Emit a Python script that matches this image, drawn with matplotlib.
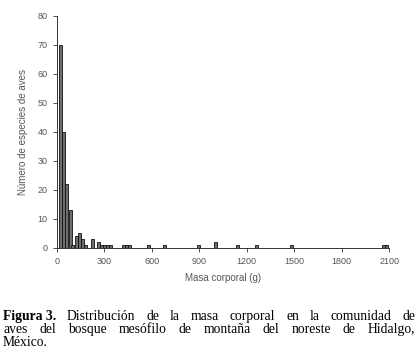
import matplotlib
matplotlib.use("Agg")
import matplotlib.pyplot as plt

# masa corporal (g) - centro de cada barra, y numero de especies
masa = [20, 42, 63, 84, 102, 124, 143, 163, 184, 223, 263, 283, 300, 318, 336,
        420, 440, 458, 582, 681, 898, 1000, 1140, 1262, 1482, 2062, 2082]
especies = [70, 40, 22, 13, 1, 4, 5, 3, 1, 3, 2, 1, 1, 1, 1,
            1, 1, 1, 1, 1, 1, 2, 1, 1, 1, 1, 1]

xticks = [0, 300, 600, 900, 1200, 1500, 1800, 2100]
yticks = [0, 10, 20, 30, 40, 50, 60, 70, 80]

caption = [
    [("Figura 3.", "bold"), ("Distribución", "normal"), ("de", "normal"), ("la", "normal"),
     ("masa", "normal"), ("corporal", "normal"), ("en", "normal"), ("la", "normal"),
     ("comunidad", "normal"), ("de", "normal")],
    [(w, "normal") for w in "aves del bosque mesófilo de montaña del noreste de Hidalgo,".split()],
    [("México.", "normal")],
]

grey = "#555555"
plt.rcParams['font.family'] = ['Liberation Sans', 'DejaVu Sans']
serif = ['Liberation Serif', 'DejaVu Serif']

fig = plt.figure(figsize=(4.18, 3.63), dpi=100)
ax = fig.add_axes([0.136, 0.317, 0.795, 0.639])

ax.bar(masa, especies, width=19, color="#6e6e6e", edgecolor="#111111", linewidth=0.6)

ax.set_xlim(0, 2100)
ax.set_ylim(0, 80)
ax.set_xticks(xticks)
ax.set_yticks(yticks)
ax.tick_params(labelsize=6.5, colors="#333333", labelcolor=grey, length=3, width=0.6)
for s in ["top", "right"]:
    ax.spines[s].set_visible(False)
for s in ["left", "bottom"]:
    ax.spines[s].set_linewidth(0.7)
    ax.spines[s].set_color("#333333")

ax.set_xlabel("Masa corporal (g)", fontsize=7, color=grey, labelpad=5)
ax.set_ylabel("Número de especies de aves", fontsize=7, color=grey, labelpad=7)

# pie de figura justificado
fig.canvas.draw()
r = fig.canvas.get_renderer()
x0, x1 = 3, 415
ys = [320, 333, 346]
W, H = fig.bbox.width, fig.bbox.height
fs = 9.8

for i, line in enumerate(caption):
    texts = []
    for w, wt in line:
        t = fig.text(0, 1 - ys[i] / H, w, fontsize=fs, fontweight=wt,
                     family=serif, va="baseline", ha="left")
        texts.append(t)
    widths = [t.get_window_extent(r).width for t in texts]
    if i < len(caption) - 1 and len(texts) > 1:
        gap = (x1 - x0 - sum(widths)) / (len(texts) - 1)
    else:
        gap = 3
    x = x0
    for t, wd in zip(texts, widths):
        t.set_x(x / W)
        x += wd + gap

fig.savefig("out.png", dpi=100)
